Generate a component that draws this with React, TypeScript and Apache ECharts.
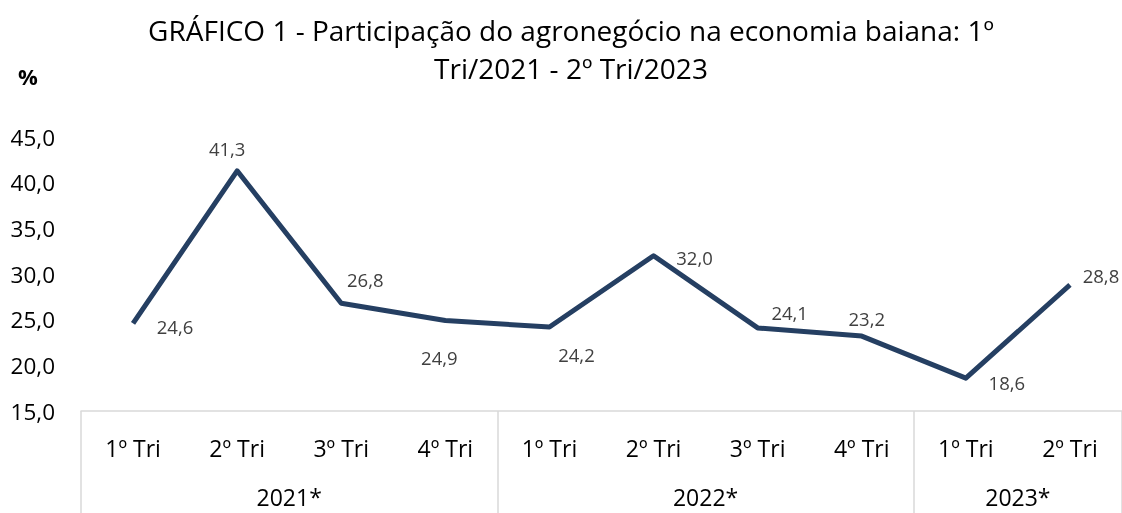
import React, { useEffect, useRef } from "react";
import * as echarts from "echarts";

const quarters = ["1º Tri", "2º Tri", "3º Tri", "4º Tri", "1º Tri", "2º Tri", "3º Tri", "4º Tri", "1º Tri", "2º Tri"];
const values = [24.6, 41.3, 26.8, 24.9, 24.2, 32.0, 24.1, 23.2, 18.6, 28.8];
const years = ["2021*", "2022*", "2023*"];
const yearSizes = [4, 4, 2];
const labelOffsets: [number, number][] = [
  [42, 3], [-10, -22], [24, -24], [-6, 37], [27, 28],
  [41, 2], [32, -15], [5, -18], [41, 4], [31, -9],
];

const FONT = "'Open Sans', Lato, sans-serif";

export default function App() {
  const ref = useRef<HTMLDivElement>(null);
  useEffect(() => {
    if (!ref.current) return;
    const chart = echarts.init(ref.current, null, { renderer: "svg" });
    const bounds: number[] = [0];
    const centers: number[] = [];
    let acc = 0;
    yearSizes.forEach((s) => {
      centers.push(acc + s / 2);
      acc += s;
      bounds.push(acc);
    });
    const yearOf = (v: number) => {
      const i = centers.findIndex((c) => Math.abs(c - v) < 1e-6);
      return i >= 0 ? years[i] : "";
    };
    chart.setOption({
      animation: false,
      textStyle: { fontFamily: FONT },
      title: {
        text: "GRÁFICO 1 - Participação do agronegócio na economia baiana: 1º\nTri/2021 - 2º Tri/2023",
        left: 566,
        textAlign: "center",
        top: 6,
        textStyle: { fontFamily: FONT, fontSize: 28, fontWeight: "normal", color: "#000", lineHeight: 38 },
      },
      graphic: [
        {
          type: "text",
          left: 18,
          top: 65,
          style: { text: "%", fontFamily: FONT, fontSize: 22, fontWeight: "bold", fill: "#000" },
        },
      ],
      grid: { left: 81, right: 0, top: 137, bottom: 102, containLabel: false },
      xAxis: [
        {
          type: "category",
          data: quarters,
          boundaryGap: true,
          axisLine: { show: true, lineStyle: { color: "#d9d9d9", width: 1.5 } },
          axisTick: { show: false },
          axisLabel: { fontSize: 23, color: "#000", margin: 25, fontFamily: FONT },
          splitLine: { show: false },
        },
        {
          type: "value",
          position: "bottom",
          min: 0,
          max: values.length,
          axisLine: { show: false },
          splitLine: { show: false },
          axisTick: {
            show: true,
            length: 102,
            customValues: bounds,
            lineStyle: { color: "#d9d9d9", width: 1.5 },
          },
          axisLabel: {
            show: true,
            customValues: centers,
            formatter: (v: number) => yearOf(v),
            fontSize: 23,
            color: "#000",
            margin: 74,
            fontFamily: FONT,
          },
        },
      ],
      yAxis: {
        type: "value",
        min: 15,
        max: 45,
        interval: 5,
        axisLine: { show: false },
        axisTick: { show: false },
        splitLine: { show: false },
        axisLabel: {
          fontSize: 22.5,
          color: "#000",
          margin: 26,
          fontFamily: FONT,
          formatter: (v: number) => v.toFixed(1).replace(".", ","),
        },
      },
      series: [
        {
          type: "line",
          xAxisIndex: 0,
          data: values.map((v, i) => ({
            value: v,
            label: { offset: labelOffsets[i] },
          })),
          symbol: "circle",
          symbolSize: 1,
          itemStyle: { color: "rgba(0,0,0,0)" },
          lineStyle: { color: "#253f62", width: 5, join: "round" },
          label: {
            show: true,
            position: "inside",
            fontSize: 18.5,
            color: "#404040",
            fontFamily: FONT,
            formatter: (p: any) => Number(p.value).toFixed(1).replace(".", ","),
          },
        },
      ],
    });
    return () => chart.dispose();
  }, []);
  return <div ref={ref} style={{ position: "fixed", left: 0, top: 0, width: 1122, height: 513 }} />;
}
